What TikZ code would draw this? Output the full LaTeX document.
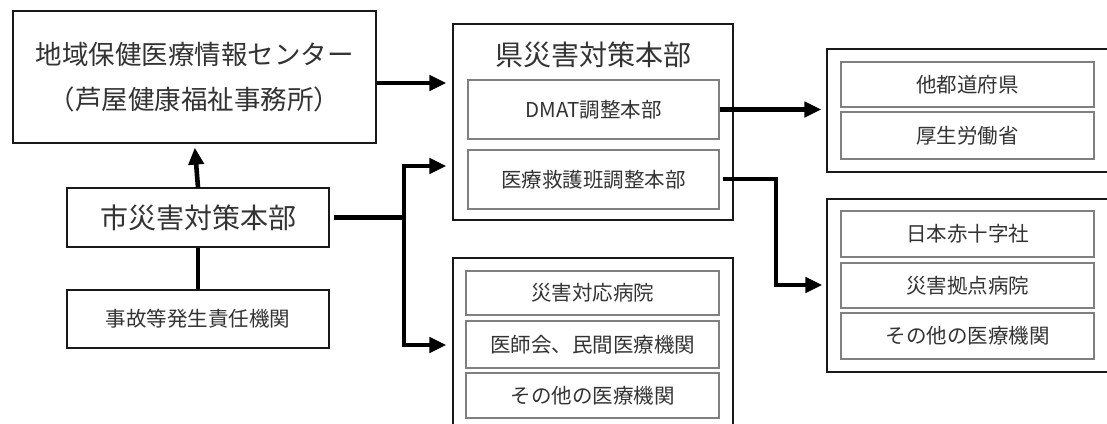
\documentclass[tikz,border=0pt]{standalone}
\usepackage{fontspec}
\setmainfont{Noto Sans CJK JP}
\usetikzlibrary{arrows.meta}
\tikzset{
  outerbox/.style={draw=black!90, line width=1.2pt, fill=white, inner sep=0pt},
  innerbox/.style={draw=black!50, line width=1.8pt, fill=white, inner sep=0pt, text=black!80},
  conn/.style={line width=4.6pt, line join=miter, draw=black},
  arr/.style={conn, -{Triangle[length=17pt,width=15pt]}},
  bigtxt/.style={font=\fontsize{28}{32}\selectfont},
  smalltxt/.style={font=\fontsize{20.5}{24}\selectfont},
}
\begin{document}
\begin{tikzpicture}[x=1pt,y=-1pt]
\useasboundingbox (0,0) rectangle (1107,423);
\clip (0,0) rectangle (1107,423);
% left column
\node[outerbox, minimum width=363pt, minimum height=132pt, align=center,
      font=\fontsize{26.5}{45}\selectfont, text=black!80] (A) at (194.5,77)
      {地域保健医療情報センター\\（芦屋健康福祉事務所）};
\node[outerbox, minimum width=262pt, minimum height=59pt, bigtxt, text=black!80] (B) at (198,217.5) {市災害対策本部};
\node[outerbox, minimum width=262pt, minimum height=58pt, smalltxt, text=black!80] (C) at (198,319) {事故等発生責任機関};
% prefecture HQ
\node[outerbox, minimum width=280pt, minimum height=196pt] (D) at (593,122) {};
\node[bigtxt, text=black!80, inner sep=0pt] (Dt) at (593,55) {県災害対策本部};
\node[innerbox, minimum width=251pt, minimum height=59pt, smalltxt] (D1) at (593.5,109.5) {DMAT調整本部};
\node[innerbox, minimum width=251pt, minimum height=59pt, smalltxt] (D2) at (593.5,179.5) {医療救護班調整本部};
% bottom middle
\node[outerbox, minimum width=280pt, minimum height=182pt] (E) at (593,349) {};
\node[innerbox, minimum width=253pt, minimum height=44pt, smalltxt] (E1) at (592.5,293) {災害対応病院};
\node[innerbox, minimum width=253pt, minimum height=47pt, smalltxt] (E2) at (592.5,344.5) {医師会、民間医療機関};
\node[innerbox, minimum width=253pt, minimum height=45pt, smalltxt] (E3) at (592.5,395.5) {その他の医療機関};
% right top
\node[outerbox, minimum width=293pt, minimum height=123pt] (F) at (973.5,110.5) {};
\node[innerbox, minimum width=253pt, minimum height=45pt, smalltxt] (F1) at (967.5,84.5) {他都道府県};
\node[innerbox, minimum width=253pt, minimum height=47pt, smalltxt] (F2) at (967.5,135.5) {厚生労働省};
% right bottom
\node[outerbox, minimum width=293pt, minimum height=173pt] (G) at (973.5,285.5) {};
\node[innerbox, minimum width=253pt, minimum height=46pt, smalltxt] (G1) at (967.5,234) {日本赤十字社};
\node[innerbox, minimum width=253pt, minimum height=45pt, smalltxt] (G2) at (967.5,285.5) {災害拠点病院};
\node[innerbox, minimum width=253pt, minimum height=46pt, smalltxt] (G3) at (967.5,336) {その他の医療機関};
% connectors
\coordinate (jm) at (404,217.5);
\coordinate (jd) at (404,166);
\coordinate (je) at (404,345);
\coordinate (k1) at (776,179);
\coordinate (k2) at (776,285);
\draw[arr, shorten >=6pt] (A.east |- 0,83) -- (D.west |- 0,83);
\draw[arr, shorten >=4pt] (B.north) -- (A.south);
\draw[conn] (C.north) -- (B.south);
\draw[conn, shorten <=4pt] (B.east) -- (jm);
\draw[arr, shorten >=6pt] (jm) -- (jd) -- (D.west |- jd);
\draw[arr, shorten >=6pt] (jm) -- (je) -- (E.west |- je);
\draw[arr, shorten >=5pt] (D1.east) -- (F.west |- D1.east);
\draw[arr, shorten >=4pt] ([xshift=3pt]D2.east |- k1) -- (k1) -- (k2) -- (G.west |- k2);
\end{tikzpicture}
\end{document}
